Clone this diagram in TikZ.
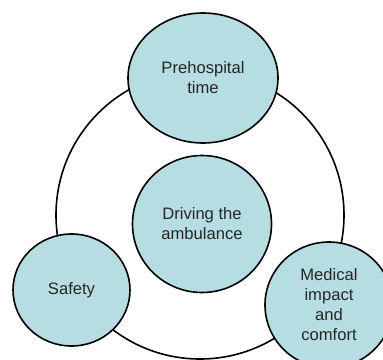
\documentclass[tikz,border=0pt]{standalone}
\usepackage{fontspec}
\setmainfont{Liberation Sans}
\usetikzlibrary{shapes.geometric}
\definecolor{bubblefill}{RGB}{182,221,226}
\definecolor{bubbletext}{RGB}{38,38,38}
\begin{document}
\begin{tikzpicture}[x=1pt,y=-1pt,
  ring/.style={draw=black, line width=1.6pt, circle, inner sep=0pt},
  bubble/.style={draw=black, line width=1.6pt, fill=bubblefill, ellipse,
    inner sep=0pt, align=center, text=bubbletext,
    font=\fontsize{16.6pt}{20pt}\selectfont}]
  \useasboundingbox (0,0) rectangle (383,359);
  % outer ring joining the three outer topics
  \node[ring, minimum size=288pt] (loop) at (200,215) {};
  % topics
  \node[bubble, minimum width=150pt, minimum height=130pt] (pre) at (203,78) {Prehospital\\time};
  \node[bubble, minimum width=139pt, minimum height=137pt] (drive) at (202,224) {Driving the\\ambulance};
  \node[bubble, minimum width=117pt, minimum height=112pt] (safe) at (71.5,290) {Safety};
  \node[bubble, minimum width=128pt, minimum height=126pt] (med) at (329,305) {Medical\\impact\\and\\comfort};
\end{tikzpicture}
\end{document}
